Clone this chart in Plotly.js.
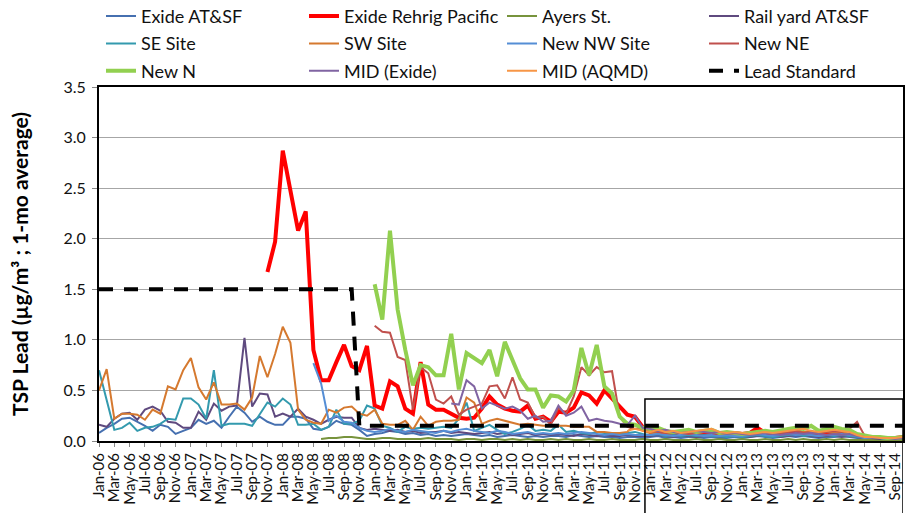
<!DOCTYPE html>
<html>
<head>
<meta charset="utf-8">
<script src="https://cdn.plot.ly/plotly-3.0.1.min.js"></script>
<style>html,body{margin:0;padding:0;background:#fff;}#chart{width:905px;height:513px;}</style>
</head>
<body>
<div id="chart"></div>
<script>
// Monthly categories Jan-06 .. Oct-14
const months = [
"Jan-06","Feb-06","Mar-06","Apr-06","May-06","Jun-06","Jul-06","Aug-06","Sep-06","Oct-06","Nov-06","Dec-06",
"Jan-07","Feb-07","Mar-07","Apr-07","May-07","Jun-07","Jul-07","Aug-07","Sep-07","Oct-07","Nov-07","Dec-07",
"Jan-08","Feb-08","Mar-08","Apr-08","May-08","Jun-08","Jul-08","Aug-08","Sep-08","Oct-08","Nov-08","Dec-08",
"Jan-09","Feb-09","Mar-09","Apr-09","May-09","Jun-09","Jul-09","Aug-09","Sep-09","Oct-09","Nov-09","Dec-09",
"Jan-10","Feb-10","Mar-10","Apr-10","May-10","Jun-10","Jul-10","Aug-10","Sep-10","Oct-10","Nov-10","Dec-10",
"Jan-11","Feb-11","Mar-11","Apr-11","May-11","Jun-11","Jul-11","Aug-11","Sep-11","Oct-11","Nov-11","Dec-11",
"Jan-12","Feb-12","Mar-12","Apr-12","May-12","Jun-12","Jul-12","Aug-12","Sep-12","Oct-12","Nov-12","Dec-12",
"Jan-13","Feb-13","Mar-13","Apr-13","May-13","Jun-13","Jul-13","Aug-13","Sep-13","Oct-13","Nov-13","Dec-13",
"Jan-14","Feb-14","Mar-14","Apr-14","May-14","Jun-14","Jul-14","Aug-14","Sep-14","Oct-14"
];
const tickLabels = months.filter((m, i) => i % 2 === 0);

// Series values (µg/m³), each starting at its first reported month
const exideATSFStart = "Jan-06";
const exideATSF = [
0.08,0.13,0.17,0.22,0.23,0.19,0.15,0.10,0.16,0.14,0.07,0.10,
0.13,0.21,0.17,0.20,0.13,0.24,0.34,0.28,0.19,0.24,0.19,0.16,
0.16,0.24,0.24,0.22,0.12,0.11,0.14,0.20,0.17,0.16,0.11,0.05,
0.07,0.08,0.10,0.09,0.07,0.08,0.06,0.07,0.05,0.06,0.05,0.06,
0.07,0.06,0.05,0.06,0.04,0.05,0.06,0.05,0.04,0.05,0.04,0.05,
0.05,0.04,0.06,0.05,0.04,0.05,0.04,0.04,0.03,0.04,0.04,0.03,
0.04,0.05,0.03,0.04,0.03,0.04,0.04,0.03,0.04,0.03,0.03,0.04,
0.03,0.04,0.05,0.04,0.03,0.04,0.05,0.04,0.05,0.04,0.03,0.04,
0.04,0.05,0.04,0.03,0.02,0.02,0.02,0.02,0.02,0.03];

const rehrigStart = "Nov-07";
const rehrig = [
1.67,1.97,
2.87,2.48,2.08,2.27,0.90,0.60,0.60,0.78,0.95,0.74,0.70,0.94,
0.35,0.32,0.59,0.54,0.32,0.27,0.78,0.36,0.31,0.31,0.27,0.23,
0.22,0.23,0.32,0.44,0.36,0.32,0.30,0.29,0.35,0.22,0.24,0.19,
0.29,0.28,0.33,0.48,0.45,0.37,0.50,0.42,0.34,0.26,0.24,0.14,
0.09,0.10,0.08,0.07,0.09,0.08,0.07,0.08,0.09,0.07,0.08,0.08,
0.07,0.08,0.13,0.08,0.07,0.06,0.08,0.09,0.07,0.08,0.06,0.07,
0.08,0.07,0.06,0.05,0.04,0.04,0.03,0.03,0.03,0.04];

const ayersStart = "Jun-08";
const ayers = [
0.02,0.03,0.03,0.04,0.04,0.03,0.02,
0.02,0.03,0.03,0.02,0.02,0.02,0.02,0.03,0.02,0.02,0.02,0.01,
0.02,0.02,0.01,0.02,0.02,0.01,0.02,0.01,0.02,0.01,0.01,0.02,
0.01,0.02,0.01,0.01,0.02,0.01,0.01,0.02,0.01,0.01,0.01,0.02,
0.01,0.01,0.02,0.01,0.01,0.01,0.02,0.01,0.01,0.02,0.01,0.01,
0.02,0.01,0.01,0.02,0.01,0.01,0.02,0.01,0.02,0.01,0.01,0.02,
0.01,0.02,0.01,0.01,0.01,0.01,0.01,0.01,0.01,0.01];

const railyardStart = "Jan-06";
const railyard = [
0.16,0.14,0.22,0.27,0.28,0.21,0.31,0.34,0.30,0.19,0.18,0.13,
0.13,0.29,0.21,0.37,0.30,0.34,0.35,1.02,0.34,0.47,0.46,0.24,
0.27,0.24,0.32,0.24,0.21,0.17,0.21,0.24,0.23,0.23,0.13,0.11,
0.12,0.11,0.10,0.11,0.09,0.10,0.08,0.09,0.09,0.10,0.08,0.09,
0.08,0.07,0.08,0.09,0.07,0.08,0.06,0.07,0.08,0.06,0.07,0.06,
0.07,0.06,0.05,0.07,0.06,0.05,0.06,0.05,0.05,0.06,0.05,0.05,
0.05,0.06,0.05,0.04,0.05,0.05,0.04,0.05,0.06,0.05,0.04,0.05,
0.05,0.04,0.05,0.06,0.05,0.04,0.05,0.06,0.05,0.05,0.04,0.05,
0.05,0.04,0.05,0.04,0.03,0.03,0.02,0.03,0.03,0.03];

const seSiteStart = "Jan-06";
const seSite = [
0.70,0.40,0.11,0.13,0.18,0.10,0.13,0.14,0.17,0.22,0.21,0.42,
0.42,0.36,0.22,0.70,0.15,0.17,0.17,0.17,0.15,0.26,0.38,0.34,
0.42,0.36,0.16,0.16,0.17,0.11,0.14,0.31,0.17,0.17,0.20,0.35,
0.32,0.15,0.13,0.09,0.14,0.12,0.13,0.12,0.13,0.14,0.13,0.22,
0.38,0.10,0.13,0.16,0.11,0.07,0.09,0.12,0.16,0.10,0.11,0.10,
0.16,0.09,0.10,0.08,0.07,0.09,0.08,0.07,0.07,0.08,0.09,0.07,
0.06,0.07,0.05,0.06,0.05,0.06,0.05,0.06,0.05,0.05,0.04,0.05,
0.04,0.05,0.06,0.05,0.04,0.05,0.06,0.07,0.05,0.06,0.05,0.06,
0.05,0.06,0.05,0.04,0.03,0.03,0.03,0.02,0.03,0.03];

const swSiteStart = "Jan-06";
const swSite = [
0.50,0.71,0.22,0.27,0.27,0.26,0.21,0.31,0.27,0.54,0.51,0.70,
0.82,0.53,0.41,0.58,0.36,0.36,0.37,0.31,0.43,0.84,0.63,0.86,
1.13,0.97,0.31,0.21,0.18,0.17,0.31,0.28,0.33,0.34,0.27,0.25,
0.31,0.17,0.16,0.16,0.20,0.11,0.24,0.15,0.19,0.20,0.20,0.21,
0.43,0.38,0.17,0.20,0.22,0.20,0.18,0.16,0.17,0.16,0.15,0.15,
0.15,0.15,0.14,0.14,0.14,0.09,0.09,0.08,0.08,0.09,0.16,0.10,
0.08,0.09,0.07,0.08,0.09,0.10,0.08,0.09,0.10,0.08,0.07,0.08,
0.07,0.08,0.07,0.08,0.09,0.08,0.10,0.11,0.09,0.10,0.08,0.09,
0.08,0.09,0.07,0.06,0.04,0.04,0.03,0.04,0.04,0.04];

const nwSiteStart = "May-08";
const nwSite = [
0.77,0.57,0.20,0.25,0.19,0.18,0.13,0.10,
0.09,0.10,0.12,0.10,0.09,0.11,0.10,0.09,0.08,0.10,0.09,0.11,
0.12,0.10,0.09,0.08,0.10,0.09,0.07,0.08,0.09,0.07,0.08,0.07,
0.08,0.07,0.08,0.09,0.08,0.07,0.06,0.07,0.06,0.07,0.06,0.06,
0.06,0.07,0.06,0.05,0.06,0.07,0.06,0.05,0.06,0.05,0.06,0.05,
0.05,0.06,0.07,0.06,0.05,0.06,0.07,0.06,0.07,0.06,0.05,0.06,
0.06,0.07,0.06,0.05,0.03,0.03,0.03,0.02,0.03,0.03];

const newNEStart = "Jan-09";
const newNE = [
1.14,1.08,1.07,0.83,0.80,0.31,0.73,0.67,0.41,0.37,0.44,0.26,
0.31,0.34,0.37,0.54,0.55,0.42,0.63,0.41,0.38,0.23,0.24,0.16,
0.33,0.27,0.44,0.73,0.65,0.73,0.68,0.69,0.24,0.14,0.12,0.11,
0.10,0.09,0.08,0.09,0.08,0.07,0.08,0.09,0.08,0.07,0.08,0.07,
0.07,0.08,0.09,0.08,0.07,0.08,0.09,0.10,0.08,0.09,0.08,0.09,
0.10,0.09,0.12,0.19,0.05,0.04,0.03,0.03,0.03,0.04];

const newNStart = "Jan-09";
const newN = [
1.55,1.20,2.08,1.30,0.90,0.55,0.75,0.73,0.65,0.65,1.06,0.51,
0.87,0.82,0.77,0.90,0.64,0.98,0.79,0.62,0.51,0.51,0.33,0.45,
0.44,0.39,0.50,0.92,0.65,0.95,0.54,0.47,0.24,0.17,0.16,0.13,
0.12,0.13,0.10,0.09,0.10,0.11,0.09,0.10,0.11,0.08,0.09,0.08,
0.07,0.08,0.09,0.10,0.09,0.11,0.12,0.13,0.12,0.15,0.10,0.12,
0.14,0.12,0.11,0.07,0.05,0.04,0.04,0.03,0.03,0.04];

const midExideStart = "Nov-09";
const midExide = [
0.37,0.36,
0.60,0.54,0.32,0.38,0.35,0.32,0.34,0.30,0.22,0.25,0.19,0.20,
0.35,0.25,0.28,0.34,0.20,0.22,0.20,0.19,0.17,0.16,0.25,0.13,
0.12,0.10,0.11,0.09,0.08,0.09,0.10,0.09,0.08,0.09,0.07,0.08,
0.07,0.06,0.07,0.08,0.07,0.06,0.07,0.08,0.07,0.08,0.07,0.06,
0.07,0.06,0.07,0.05,0.04,0.03,0.03,0.03,0.02,0.03];

const midAQMDStart = "Oct-11";
const midAQMD = [
0.10,0.12,0.10,
0.09,0.11,0.09,0.10,0.08,0.09,0.10,0.11,0.12,0.09,0.08,0.09,
0.08,0.07,0.08,0.09,0.08,0.09,0.10,0.11,0.12,0.10,0.09,0.10,
0.11,0.10,0.09,0.06,0.04,0.04,0.03,0.03,0.03,0.04];

const leadStdX = ["Jan-06","Oct-08","Nov-08","Oct-14"];
const leadStdY = [1.5, 1.5, 0.15, 0.15];

const yTickVals = [0, 0.5, 1.0, 1.5, 2.0, 2.5, 3.0, 3.5];

function xFor(start, vals) {
  const i = months.indexOf(start);
  return months.slice(i, i + vals.length);
}

const series = [
  {name: "Exide AT&SF", start: exideATSFStart, y: exideATSF, color: "#4670B0", width: 2},
  {name: "Exide Rehrig Pacific", start: rehrigStart, y: rehrig, color: "#FF0000", width: 4},
  {name: "Ayers St.", start: ayersStart, y: ayers, color: "#77933C", width: 2},
  {name: "Rail yard AT&SF", start: railyardStart, y: railyard, color: "#5F4A7F", width: 2},
  {name: "SE Site", start: seSiteStart, y: seSite, color: "#339AAE", width: 2},
  {name: "SW Site", start: swSiteStart, y: swSite, color: "#D5792F", width: 2},
  {name: "New NW Site", start: nwSiteStart, y: nwSite, color: "#558ED5", width: 2},
  {name: "New NE", start: newNEStart, y: newNE, color: "#C0504D", width: 2},
  {name: "New N", start: newNStart, y: newN, color: "#92D050", width: 4},
  {name: "MID (Exide)", start: midExideStart, y: midExide, color: "#8064A2", width: 2},
  {name: "MID (AQMD)", start: midAQMDStart, y: midAQMD, color: "#F79646", width: 2}
];

const legendNames = ["legend", "legend2", "legend3", "legend4"];

const traces = series.map((s, i) => ({
  type: "scatter", mode: "lines", name: s.name,
  x: xFor(s.start, s.y), y: s.y,
  line: {color: s.color, width: s.width},
  legend: legendNames[i % 4], legendgroup: "g" + i,
  hoverinfo: "skip"
}));
traces.push({
  type: "scatter", mode: "lines", name: "Lead Standard",
  x: leadStdX, y: leadStdY,
  line: {color: "#000000", width: 4, dash: "14px,11px"},
  legend: "legend4", legendgroup: "g11", hoverinfo: "skip"
});

const font = "Lato, 'Liberation Sans', sans-serif";
function legendAt(xpx) {
  return {
    x: (xpx - 99) / 804, xanchor: "left", y: 1.252, yanchor: "top",
    orientation: "v", traceorder: "grouped", tracegroupgap: 1,
    font: {family: font, size: 18, color: "#111"},
    bgcolor: "rgba(0,0,0,0)", borderwidth: 0
  };
}

const layout = {
  width: 905, height: 513,
  margin: {l: 99, r: 2, t: 87, b: 72, autoexpand: false},
  paper_bgcolor: "#ffffff", plot_bgcolor: "#ffffff",
  font: {family: font, size: 15, color: "#111"},
  showlegend: true,
  legend: legendAt(101), legend2: legendAt(304), legend3: legendAt(502), legend4: legendAt(704),
  xaxis: {
    type: "category", categoryorder: "array", categoryarray: months,
    range: [0, months.length - 1], autorange: false,
    tickmode: "array", tickvals: tickLabels, ticktext: tickLabels,
    tickangle: -90, ticks: "outside", ticklen: 4, tickcolor: "#888",
    tickfont: {family: font, size: 15, color: "#111"},
    showgrid: false, showline: true, linecolor: "#000", linewidth: 2, mirror: true,
    zeroline: false, fixedrange: true
  },
  yaxis: {
    range: [0, 3.5], autorange: false,
    tickmode: "array", tickvals: yTickVals, tickformat: ".1f",
    ticks: "outside", ticklen: 5, tickcolor: "#888", ticklabelstandoff: 3,
    tickfont: {family: font, size: 16, color: "#111"},
    showgrid: true, gridcolor: "#A6A6A6", gridwidth: 1,
    showline: true, linecolor: "#000", linewidth: 2, mirror: true,
    zeroline: false, fixedrange: true,
    title: {text: "TSP Lead (µg/m³ ; 1-mo average)", font: {family: font, size: 21, color: "#000", weight: "bold"}, standoff: 29}
  },
  shapes: [{
    type: "rect", xref: "x", yref: "paper",
    x0: 71.3, x1: 105, y0: -0.3, y1: 0.415 / 3.5,
    line: {color: "#000", width: 1.5}, fillcolor: "rgba(0,0,0,0)", layer: "above"
  }]
};

Plotly.newPlot("chart", traces, layout, {displayModeBar: false, staticPlot: true});
</script>
</body>
</html>
